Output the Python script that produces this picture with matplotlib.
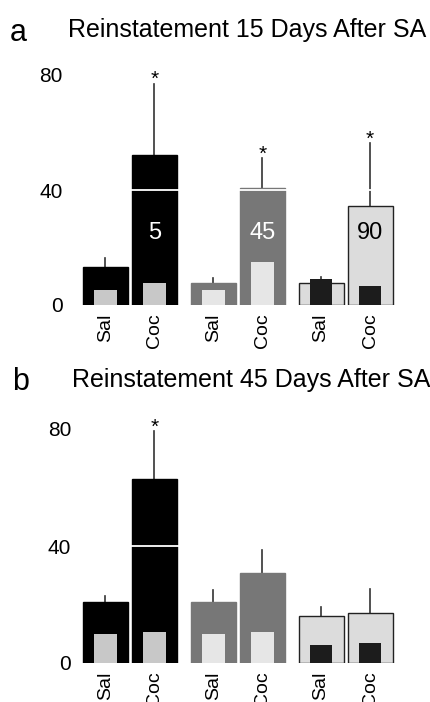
import numpy as np
import matplotlib.pyplot as plt

plt.rcParams['font.family'] = ['Liberation Sans', 'DejaVu Sans']

# data
bar_labels = ['Sal', 'Coc', 'Sal', 'Coc', 'Sal', 'Coc']
group_names = ['5', '45', '90']

a_total = [13.2, 52.2, 7.7, 40.7, 7.6, 34.5]
a_err = [3.1, 24.8, 1.8, 10.3, 2.2, 21.7]
a_inner = [5.2, 7.7, 5.2, 15.0, 8.9, 6.6]
a_star = [False, True, False, True, False, True]

b_total = [20.9, 62.9, 20.9, 30.8, 16.0, 17.0]
b_err = [2.0, 16.4, 4.1, 7.8, 3.1, 8.3]
b_inner = [9.9, 10.6, 9.9, 10.6, 6.2, 6.8]
b_star = [False, True, False, False, False, False]

# styles
xpos = np.array([0, 1, 2.2, 3.2, 4.4, 5.4])
outer_col = ['#000000', '#000000', '#777777', '#777777', '#dcdcdc', '#dcdcdc']
inner_col = ['#c8c8c8', '#c8c8c8', '#e6e6e6', '#e6e6e6', '#1c1c1c', '#1c1c1c']
edge_col = ['#000000', '#000000', '#777777', '#777777', '#222222', '#222222']
num_col = ['white', 'white', 'black']

fig = plt.figure(figsize=(4.31, 7.02), dpi=100)


def panel(ax, total, err, inner, star, show_nums, tickpad):
    ax.bar(xpos, total, width=0.92, color=outer_col, edgecolor=edge_col, linewidth=1.0, zorder=2)
    for i in range(6):
        ax.plot([xpos[i], xpos[i]], [total[i], total[i] + err[i]], color='#333333', lw=1.2, zorder=1)
        if star[i]:
            ax.annotate('*', (xpos[i], total[i] + err[i]), xytext=(0, 3), textcoords='offset points',
                        ha='center', va='center', fontsize=15)
    ax.bar(xpos, inner, width=0.46, color=inner_col, zorder=3)
    # white line at 40
    ax.axhline(40, color='white', lw=1.3, zorder=4)
    if show_nums:
        for g in range(3):
            ax.text(xpos[2 * g + 1], 25, group_names[g], color=num_col[g], ha='center', va='center',
                    fontsize=17, zorder=5)
    ax.set_xlim(-0.5, 5.9)
    ax.set_ylim(0, 85)
    ax.set_yticks([0, 40, 80])
    ax.set_xticks(xpos)
    ax.set_xticklabels(bar_labels, rotation=90, fontsize=14)
    ax.tick_params(axis='y', length=0, pad=tickpad, labelsize=15)
    ax.tick_params(axis='x', length=0, pad=6)
    for s in ax.spines.values():
        s.set_visible(False)


ax1 = fig.add_axes([81 / 431, (702 - 305) / 702, 313.6 / 431, 85 * 2.875 / 702])
panel(ax1, a_total, a_err, a_inner, a_star, True, 13)

ax2 = fig.add_axes([81 / 431, (702 - 663) / 702, 313.6 / 431, 85 * 2.925 / 702])
panel(ax2, b_total, b_err, b_inner, b_star, False, 7)

fig.text(10 / 431, 1 - 33 / 702, 'a', fontsize=22, va='center', ha='left')
fig.text(68 / 431, 1 - 30 / 702, 'Reinstatement 15 Days After SA', fontsize=18, va='center', ha='left')
fig.text(12 / 431, 1 - 382 / 702, 'b', fontsize=22, va='center', ha='left')
fig.text(72 / 431, 1 - 380 / 702, 'Reinstatement 45 Days After SA', fontsize=18, va='center', ha='left')

fig.savefig('out.png', dpi=100)
